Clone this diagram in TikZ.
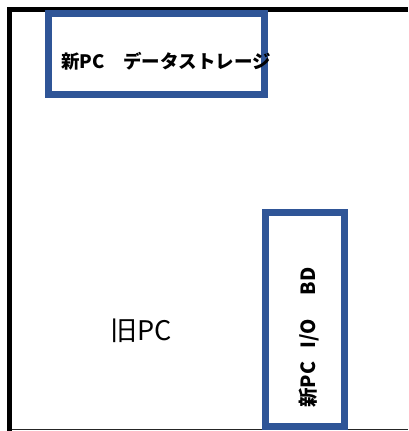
\documentclass[tikz,border=0pt]{standalone}
\usepackage{fontspec}
\newfontfamily\jpfont{Noto Sans CJK JP}
\definecolor{boxblue}{RGB}{47,85,151}
\tikzset{
  partbox/.style={draw=boxblue,line width=7pt,inner sep=0pt},
  partlabel/.style={font=\jpfont\bfseries\fontsize{18.5}{22}\selectfont,inner sep=0pt}
}
\begin{document}
\begin{tikzpicture}[x=1pt,y=-1pt]
    \useasboundingbox (0,0) rectangle (408,431);
    \clip (0,0) rectangle (408,431);
    % case outline
    \draw[line width=5pt] (9.5,431) -- (9.5,9.5) -- (408,9.5);
    \draw[line width=1pt,black!85] (12,429.5) -- (408,429.5);
    % parts of the new PC
    \node[partbox,minimum width=215.5pt,minimum height=80.5pt] (storage) at (156.25,53.75) {};
    \node[partbox,minimum width=79pt,minimum height=214pt] (iobd) at (304.5,319.5) {};
    \node[partlabel] (storage_t) at (166,61) {新PC　データストレージ};
    \node[partlabel,font=\jpfont\bfseries\fontsize{19.5}{22}\selectfont,rotate=90] (iobd_t) at (309,337.5) {新PC\hspace{13pt}I/O\hspace{24pt}BD};
    \node[font=\jpfont\fontsize{27}{30}\selectfont,inner sep=0pt] (oldpc) at (141,331) {旧PC};
\end{tikzpicture}
\end{document}
